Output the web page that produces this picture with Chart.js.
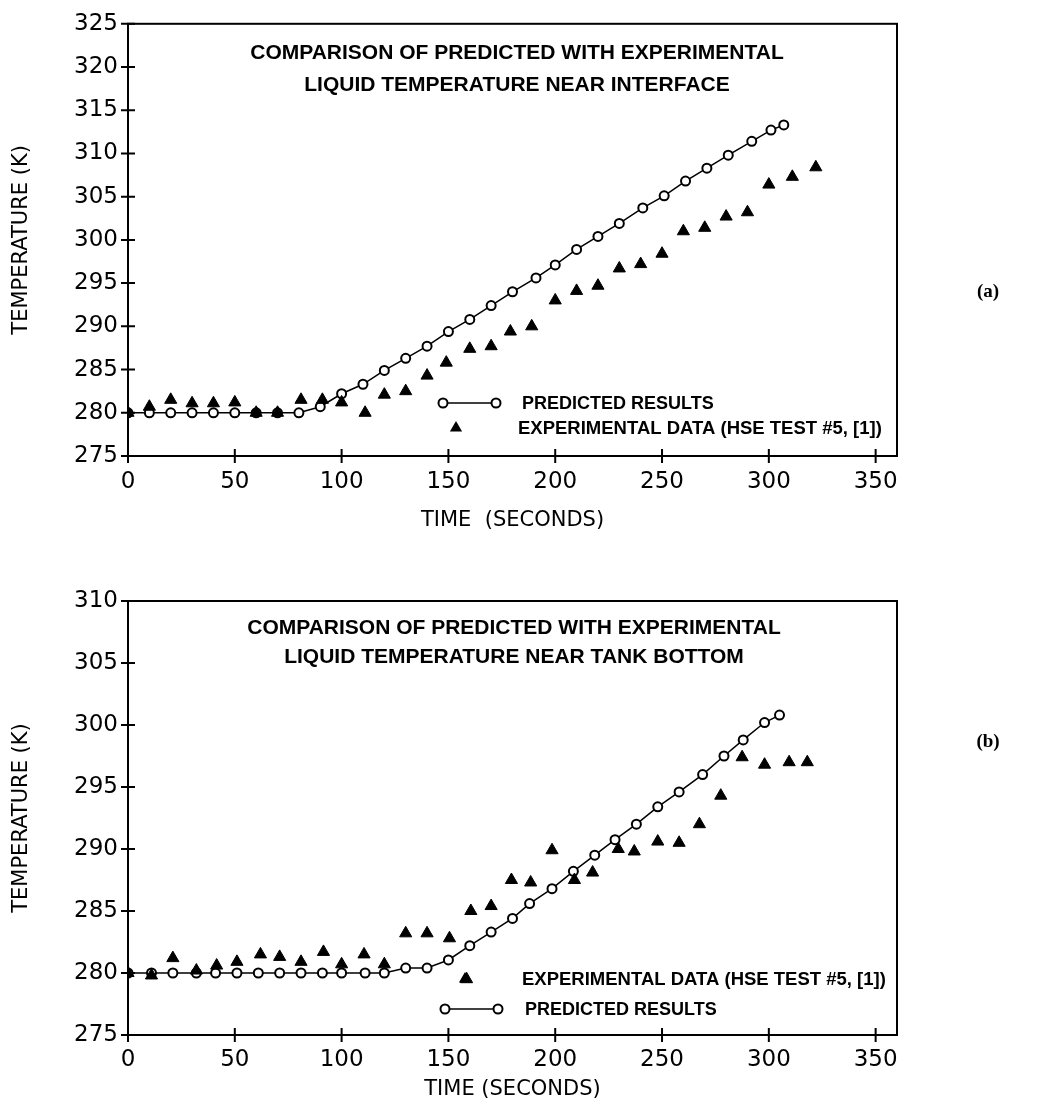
<!DOCTYPE html>
<html>
<head>
<meta charset="UTF-8">
<title>Liquid temperature: predicted vs experimental</title>
<script src="https://cdn.jsdelivr.net/npm/chart.js"></script>
<style>
  body { margin: 0; background: #fff; }
  canvas { display: block; }
</style>
</head>
<body>
<canvas id="chartA" width="1039" height="545"></canvas>
<canvas id="chartB" width="1039" height="560"></canvas>
<script>
// (a) liquid temperature near interface
const aPredTime = [0, 10, 20, 30, 40, 50, 60, 70, 80, 90, 100, 110, 120, 130, 140, 150, 160, 170, 180, 191, 200, 210, 220, 230, 241, 251, 261, 271, 281, 292, 301, 307];
const aPredTemp = [280, 280, 280, 280, 280, 280, 280, 280, 280, 280.7, 282.2, 283.3, 284.9, 286.3, 287.7, 289.4, 290.8, 292.4, 294.0, 295.6, 297.1, 298.9, 300.4, 301.9, 303.7, 305.1, 306.8, 308.3, 309.8, 311.4, 312.7, 313.3];
const aExpTime = [0, 10, 20, 30, 40, 50, 60, 70, 81, 91, 100, 111, 120, 130, 140, 149, 160, 170, 179, 189, 200, 210, 220, 230, 240, 250, 260, 270, 280, 290, 300, 311, 322];
const aExpTemp = [280, 280.7, 281.5, 281.1, 281.1, 281.2, 280, 280, 281.5, 281.5, 281.2, 280.0, 282.1, 282.5, 284.3, 285.8, 287.4, 287.7, 289.4, 290.0, 293.0, 294.1, 294.7, 296.7, 297.2, 298.4, 301.0, 301.4, 302.7, 303.2, 306.4, 307.3, 308.4];

// (b) liquid temperature near tank bottom
const bPredTime = [0, 11, 21, 32, 41, 51, 61, 71, 81, 91, 100, 111, 120, 130, 140, 150, 160, 170, 180, 188, 198.5, 208.5, 218.5, 228, 238, 248, 258, 269, 279, 288, 298, 305];
const bPredTemp = [280, 280, 280, 280, 280, 280, 280, 280, 280, 280, 280, 280, 280, 280.4, 280.4, 281.05, 282.2, 283.3, 284.4, 285.6, 286.8, 288.2, 289.5, 290.75, 292.0, 293.4, 294.6, 296.0, 297.5, 298.8, 300.2, 300.8];
const bExpTime = [0, 11, 21, 32, 41.5, 51, 62, 71, 81, 91.5, 100, 110.5, 120, 130, 140, 150.5, 158.5, 160.5, 170, 179.5, 188.5, 198.5, 209, 217.5, 229.5, 237, 248, 258, 267.5, 277.5, 287.5, 298, 309.5, 318];
const bExpTemp = [280, 279.8, 281.2, 280.2, 280.6, 280.9, 281.5, 281.3, 280.9, 281.7, 280.7, 281.5, 280.7, 283.2, 283.2, 282.8, 279.5, 285.0, 285.4, 287.5, 287.3, 289.9, 287.5, 288.1, 290.0, 289.8, 290.6, 290.5, 292.0, 294.3, 297.4, 296.8, 297.0, 297.0];

const xTicks = [0, 50, 100, 150, 200, 250, 300, 350];
const aYTicks = [275, 280, 285, 290, 295, 300, 305, 310, 315, 320, 325];
const bYTicks = [275, 280, 285, 290, 295, 300, 305, 310];

Chart.defaults.font.family = '"DejaVu Sans", sans-serif';
Chart.defaults.color = '#000';

function pts(xs, ys) {
  return xs.map((x, i) => ({ x: x, y: ys[i] }));
}

// text and legend drawn inside each plot
const notes = {
  chartA: {
    title: ['COMPARISON OF PREDICTED WITH EXPERIMENTAL', 'LIQUID TEMPERATURE NEAR INTERFACE'],
    titleX: 517, titleY: [53, 85],
    pred: { x1: 443, x2: 496, y: 403, tx: 522 },
    exp: { x: 456, y: 428, tx: 518 },
    tag: '(a)', tagY: 292
  },
  chartB: {
    title: ['COMPARISON OF PREDICTED WITH EXPERIMENTAL', 'LIQUID TEMPERATURE NEAR TANK BOTTOM'],
    titleX: 514, titleY: [83, 112],
    pred: { x1: 445, x2: 498, y: 464, tx: 525 },
    exp: { x: 465, y: 434, tx: 522 },
    tag: '(b)', tagY: 197
  }
};

function openCircle(ctx, x, y) {
  ctx.beginPath();
  ctx.arc(x, y, 4.5, 0, Math.PI * 2);
  ctx.fillStyle = '#fff';
  ctx.fill();
  ctx.lineWidth = 2;
  ctx.stroke();
}

const frameTicks = {
  id: 'frameTicks',
  beforeDatasetsDraw(chart) {
    const ctx = chart.ctx, a = chart.chartArea;
    const xs = chart.scales.x, ys = chart.scales.y;
    ctx.save();
    ctx.strokeStyle = '#000';
    ctx.lineWidth = 2;
    ctx.strokeRect(a.left, a.top, a.right - a.left, a.bottom - a.top);
    ctx.beginPath();
    xs.ticks.forEach(t => {
      const px = xs.getPixelForValue(t.value);
      ctx.moveTo(px, a.bottom - 7);
      ctx.lineTo(px, a.bottom + 7);
    });
    ys.ticks.forEach(t => {
      const py = ys.getPixelForValue(t.value);
      ctx.moveTo(a.left - 7, py);
      ctx.lineTo(a.left + 7, py);
    });
    ctx.stroke();
    ctx.restore();
  },
  afterDraw(chart) {
    const n = notes[chart.canvas.id];
    const ctx = chart.ctx;
    ctx.save();
    ctx.fillStyle = '#000';
    ctx.strokeStyle = '#000';
    ctx.textBaseline = 'middle';

    ctx.font = 'bold 21px "Liberation Sans", sans-serif';
    ctx.textAlign = 'center';
    n.title.forEach((line, i) => ctx.fillText(line, n.titleX, n.titleY[i]));

    // predicted legend entry
    ctx.lineWidth = 1.5;
    ctx.beginPath();
    ctx.moveTo(n.pred.x1, n.pred.y);
    ctx.lineTo(n.pred.x2, n.pred.y);
    ctx.stroke();
    openCircle(ctx, n.pred.x1, n.pred.y);
    openCircle(ctx, n.pred.x2, n.pred.y);
    ctx.fillStyle = '#000';
    ctx.font = 'bold 18px "Liberation Sans", sans-serif';
    ctx.textAlign = 'left';
    ctx.fillText('PREDICTED RESULTS', n.pred.tx, n.pred.y + 1);

    // experimental legend entry
    ctx.beginPath();
    ctx.moveTo(n.exp.x, n.exp.y - 7);
    ctx.lineTo(n.exp.x + 6.1, n.exp.y + 3.5);
    ctx.lineTo(n.exp.x - 6.1, n.exp.y + 3.5);
    ctx.closePath();
    ctx.fill();
    ctx.font = 'bold 18.5px "Liberation Sans", sans-serif';
    ctx.fillText('EXPERIMENTAL DATA (HSE TEST #5, [1])', n.exp.tx, n.exp.y + 1);

    ctx.font = 'bold 19px "Liberation Serif", serif';
    ctx.textAlign = 'center';
    ctx.fillText(n.tag, 988, n.tagY);
    ctx.restore();
  }
};

function makeChart(id, predT, predK, expT, expK, yTicks, opts) {
  return new Chart(document.getElementById(id), {
    type: 'scatter',
    data: {
      datasets: [
        {
          label: 'EXPERIMENTAL DATA',
          data: pts(expT, expK),
          showLine: false,
          pointStyle: 'triangle',
          pointRadius: 7,
          pointBackgroundColor: '#000',
          pointBorderColor: '#000',
          pointBorderWidth: 1
        },
        {
          label: 'PREDICTED RESULTS',
          data: pts(predT, predK),
          showLine: true,
          borderColor: '#000',
          borderWidth: 1.5,
          pointStyle: 'circle',
          pointRadius: 4.5,
          pointBackgroundColor: '#fff',
          pointBorderColor: '#000',
          pointBorderWidth: 2
        }
      ]
    },
    options: {
      responsive: false,
      animation: false,
      layout: { padding: { left: 0, right: 142, top: opts.top, bottom: 0 } },
      plugins: {
        legend: { display: false },
        tooltip: { enabled: false }
      },
      scales: {
        x: {
          type: 'linear',
          min: 0,
          max: 360,
          afterBuildTicks: s => { s.ticks = xTicks.map(v => ({ value: v })); },
          afterFit: s => { s.height = opts.xHeight; },
          grid: { display: false, drawTicks: false },
          border: { display: false },
          ticks: { padding: opts.xPad, font: { size: 23 }, maxRotation: 0, autoSkip: false },
          title: { display: true, text: opts.xTitle, font: { size: 21 }, padding: { top: 0, bottom: opts.xTitlePad } }
        },
        y: {
          type: 'linear',
          min: yTicks[0],
          max: yTicks[yTicks.length - 1],
          afterBuildTicks: s => { s.ticks = yTicks.map(v => ({ value: v })); },
          afterFit: s => { s.width = 128; },
          grid: { display: false, drawTicks: false },
          border: { display: false },
          ticks: { padding: 10, font: { size: 23 }, autoSkip: false },
          title: { display: true, text: 'TEMPERATURE (K)', font: { size: 21 }, padding: { top: 9, bottom: 0 } }
        }
      }
    },
    plugins: [frameTicks]
  });
}

makeChart('chartA', aPredTime, aPredTemp, aExpTime, aExpTemp, aYTicks,
  { top: 22, xHeight: 89, xPad: 12, xTitle: 'TIME  (SECONDS)', xTitlePad: 12 });
makeChart('chartB', bPredTime, bPredTemp, bExpTime, bExpTemp, bYTicks,
  { top: 56, xHeight: 70, xPad: 11, xTitle: 'TIME (SECONDS)', xTitlePad: 3 });
</script>
</body>
</html>
